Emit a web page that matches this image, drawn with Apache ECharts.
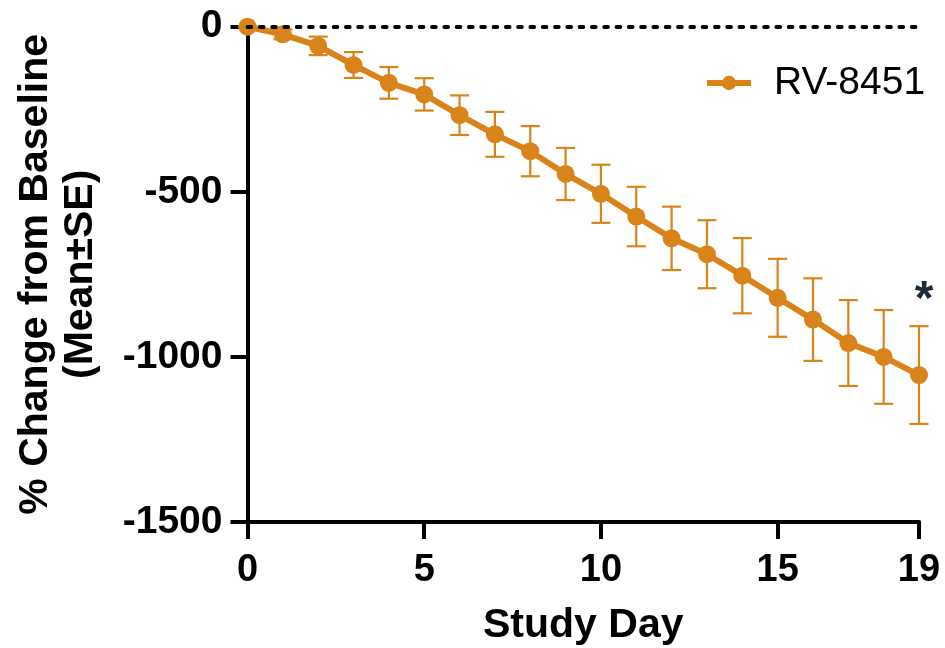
<!DOCTYPE html>
<html>
<head>
<meta charset="utf-8">
<script src="https://cdn.jsdelivr.net/npm/echarts@6/dist/echarts.min.js"></script>
<style>
html,body{margin:0;padding:0;background:#fff;}
#chart{width:945px;height:648px;}
</style>
</head>
<body>
<div id="chart"></div>
<script>
// ---- data ----
var days = [0,1,2,3,4,5,6,7,8,9,10,11,12,13,14,15,16,17,18,19];
var meanChange = [0,-23,-58,-116,-170,-205,-268,-326,-377,-446,-506,-575,-641,-689,-754,-821,-887,-958,-1000,-1055];
var seChange = [0,15,28,39,48,49,60,68,76,79,88,90,96,103,114,118,125,130,142,148];
var xTickValues = [0,5,10,15,19];
var seriesName = 'RV-8451';
var significantDays = [19];

var color = '#d8841a';
var font = "'Liberation Sans', Arial, Helvetica, sans-serif";

var lineData = days.map(function(d,i){ return [d, meanChange[i]]; });
var errData = days.map(function(d,i){ return [d, meanChange[i]-seChange[i], meanChange[i]+seChange[i]]; });
var starData = significantDays.map(function(d){
  var i = days.indexOf(d);
  return { coord: [d, meanChange[i] + seChange[i]] };
});

var chart = echarts.init(document.getElementById('chart'), null, {renderer:'canvas'});
chart.setOption({
  backgroundColor:'#fff',
  animation:false,
  grid:{left:247.5, right:26, top:26.7, bottom:126, outerBoundsMode:'none', containLabel:false},
  legend:{
    show:true,
    left:699, top:57,
    itemWidth:44, itemHeight:18,
    itemGap:10,
    data:[seriesName],
    lineStyle:{width:6, color:color},
    itemStyle:{color:color},
    textStyle:{fontFamily:font, fontSize:39, color:'#000', lineHeight:42, padding:[0,0,0,18]}
  },
  xAxis:{
    type:'value', min:0, max:19,
    name:'Study Day', nameLocation:'middle', nameGap:83,
    nameTextStyle:{fontFamily:font, fontSize:41, fontWeight:'bold', color:'#000'},
    axisLine:{show:true, onZero:false, lineStyle:{color:'#000', width:4}},
    axisTick:{show:true, length:17, lineStyle:{color:'#000', width:4}, customValues:xTickValues},
    axisLabel:{fontFamily:font, fontSize:38, fontWeight:'bold', color:'#000', margin:30, customValues:xTickValues},
    splitLine:{show:false}
  },
  yAxis:{
    type:'value', min:-1500, max:0, interval:500,
    name:'% Change from Baseline\n(Mean±SE)', nameLocation:'middle', nameGap:144, nameRotate:90,
    nameTextStyle:{fontFamily:font, fontSize:41, fontWeight:'bold', color:'#000', lineHeight:45},
    axisLine:{show:true, onZero:false, lineStyle:{color:'#000', width:4}},
    axisTick:{show:true, length:17, lineStyle:{color:'#000', width:4}},
    axisLabel:{fontFamily:font, fontSize:39, fontWeight:'bold', color:'#000', margin:25,
      formatter:function(v){ return String(v); }},
    splitLine:{show:false}
  },
  series:[
    {
      type:'line', name:'zero', data:[], z:1, silent:true,
      markLine:{
        silent:true, symbol:['none','none'],
        label:{show:false},
        lineStyle:{color:'#000', width:3.8, type:[3.8,8.5], cap:'round'},
        data:[{yAxis:0}]
      }
    },
    {
      type:'custom', name:'err', z:2, silent:true,
      renderItem:function(params, api){
        var x = api.value(0);
        var lo = api.coord([x, api.value(1)]);
        var hi = api.coord([x, api.value(2)]);
        var hw = 9.5;
        var st = {stroke:color, lineWidth:2.2};
        return {type:'group', children:[
          {type:'line', shape:{x1:lo[0], y1:lo[1], x2:hi[0], y2:hi[1]}, style:st},
          {type:'line', shape:{x1:lo[0]-hw, y1:lo[1], x2:lo[0]+hw, y2:lo[1]}, style:st},
          {type:'line', shape:{x1:hi[0]-hw, y1:hi[1], x2:hi[0]+hw, y2:hi[1]}, style:st}
        ]};
      },
      encode:{x:0, y:[1,2]},
      data:errData
    },
    {
      type:'line', name:seriesName, z:3,
      data:lineData,
      symbol:'circle', symbolSize:18, showSymbol:true,
      lineStyle:{color:color, width:6},
      itemStyle:{color:color, borderWidth:0},
      markPoint:{
        symbol:'circle', symbolSize:0,
        label:{show:true, formatter:'*', position:'top', offset:[5,4],
          fontFamily:font, fontSize:48, fontWeight:'bold', color:'#1f2937'},
        data:starData
      }
    }
  ]
});
</script>
</body>
</html>
